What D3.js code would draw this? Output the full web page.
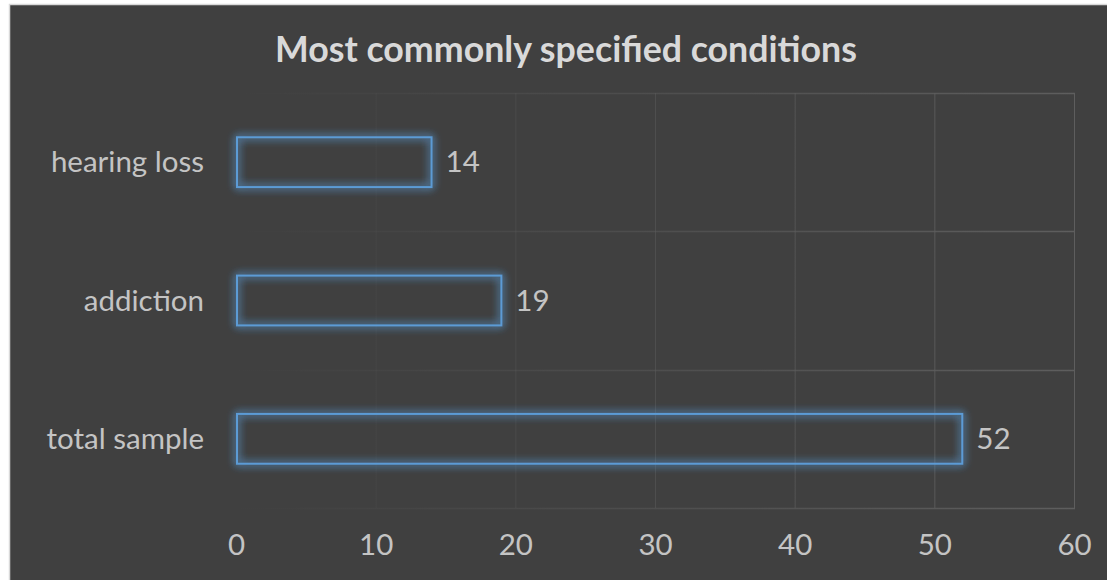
<!DOCTYPE html>
<html>
<head>
<meta charset="utf-8">
<script src="https://cdn.jsdelivr.net/npm/d3@7"></script>
<style>
  html, body { margin: 0; padding: 0; background: #ffffff; }
  svg { display: block; }
  text { font-family: Lato, "Open Sans", sans-serif; }
</style>
</head>
<body>
<svg id="chart" width="1107" height="580"></svg>
<script>
// Chart data
const title = "Most commonly specified conditions";
const categories = ["hearing loss", "addiction", "total sample"];
const values = [14, 19, 52];
const xTicks = [0, 10, 20, 30, 40, 50, 60];

const W = 1107, H = 580;
const plot = { left: 236, right: 1074, top: 93, bottom: 508 };
const labelSize = 29.5;
const labelColor = "#c4c4c4";

const svg = d3.select("#chart");
const defs = svg.append("defs");

// Gridline gradient: fades out toward the left edge of the plot
const grad = defs.append("linearGradient")
  .attr("id", "gridGrad")
  .attr("gradientUnits", "userSpaceOnUse")
  .attr("x1", plot.left).attr("y1", 0)
  .attr("x2", plot.right).attr("y2", 0);
grad.append("stop").attr("offset", "0%").attr("stop-color", "#5a5a5a").attr("stop-opacity", 0);
grad.append("stop").attr("offset", "100%").attr("stop-color", "#5e5e5e").attr("stop-opacity", 1);

// Soft blue glow around bar outlines
const glow = defs.append("filter").attr("id", "glow")
  .attr("x", "-10%").attr("y", "-50%").attr("width", "120%").attr("height", "200%");
glow.append("feGaussianBlur").attr("in", "SourceGraphic").attr("stdDeviation", 4).attr("result", "blur");
const merge = glow.append("feMerge");
merge.append("feMergeNode").attr("in", "blur");
merge.append("feMergeNode").attr("in", "blur");
merge.append("feMergeNode").attr("in", "SourceGraphic");

// Chart area background and border
svg.append("rect")
  .attr("x", 9.5).attr("y", 4.5)
  .attr("width", W).attr("height", H)
  .attr("fill", "#404040")
  .attr("stroke", "#d9d9d9").attr("stroke-width", 1.5);

const x = d3.scaleLinear().domain([0, 60]).range([plot.left, plot.right]);
const y = d3.scaleBand().domain(categories).range([plot.top, plot.bottom]).paddingInner(0).paddingOuter(0);
const barPad = 0.32;
const barH = y.bandwidth() * (1 - 2 * barPad);

// Gridlines
const grid = svg.append("g");
grid.selectAll("line.v").data(xTicks).join("line")
  .attr("class", "v")
  .attr("x1", d => x(d) + 0.5).attr("x2", d => x(d) + 0.5)
  .attr("y1", plot.top).attr("y2", plot.bottom)
  .attr("stroke", "url(#gridGrad)").attr("stroke-width", 1);
const hLines = categories.map(c => y(c)).concat([plot.bottom]);
grid.selectAll("line.h").data(hLines).join("line")
  .attr("class", "h")
  .attr("x1", plot.left).attr("x2", plot.right + 1)
  .attr("y1", d => Math.round(d) + 0.5).attr("y2", d => Math.round(d) + 0.5)
  .attr("stroke", "url(#gridGrad)").attr("stroke-width", 1.5);

// Bars: outline only, with glow
const bars = svg.append("g");
bars.selectAll("rect").data(values).join("rect")
  .attr("x", x(0) + 1)
  .attr("y", (d, i) => y(categories[i]) + y.bandwidth() * barPad)
  .attr("width", d => x(d) - x(0) - 1)
  .attr("height", barH)
  .attr("fill", "none")
  .attr("stroke", "#5b9bd5")
  .attr("stroke-width", 2)
  .attr("filter", "url(#glow)");

// Value labels
svg.append("g").selectAll("text").data(values).join("text")
  .attr("x", d => x(d) + 14)
  .attr("y", (d, i) => y(categories[i]) + y.bandwidth() / 2)
  .attr("dy", "0.35em")
  .attr("fill", labelColor)
  .attr("font-size", labelSize)
  .text(d => d);

// Category axis labels
svg.append("g").selectAll("text").data(categories).join("text")
  .attr("x", 204)
  .attr("y", d => y(d) + y.bandwidth() / 2)
  .attr("dy", "0.35em")
  .attr("text-anchor", "end")
  .attr("fill", labelColor)
  .attr("font-size", labelSize)
  .text(d => d);

// Value axis
const xAxis = svg.append("g")
  .attr("transform", `translate(0,${plot.bottom})`)
  .call(d3.axisBottom(x).tickValues(xTicks).tickSize(0).tickPadding(26));
xAxis.select(".domain").remove();
xAxis.selectAll("text")
  .attr("fill", labelColor)
  .attr("font-size", labelSize)
  .attr("font-family", "Lato, 'Open Sans', sans-serif");

// Title
const t = svg.append("text")
  .attr("x", 566)
  .attr("y", 62)
  .attr("text-anchor", "middle")
  .attr("fill", "#d9d9d9")
  .attr("font-weight", "bold")
  .attr("font-size", 28)
  .text(title);
const tw = t.node().getComputedTextLength();
t.attr("font-size", 28 * 582 / tw);
</script>
</body>
</html>
